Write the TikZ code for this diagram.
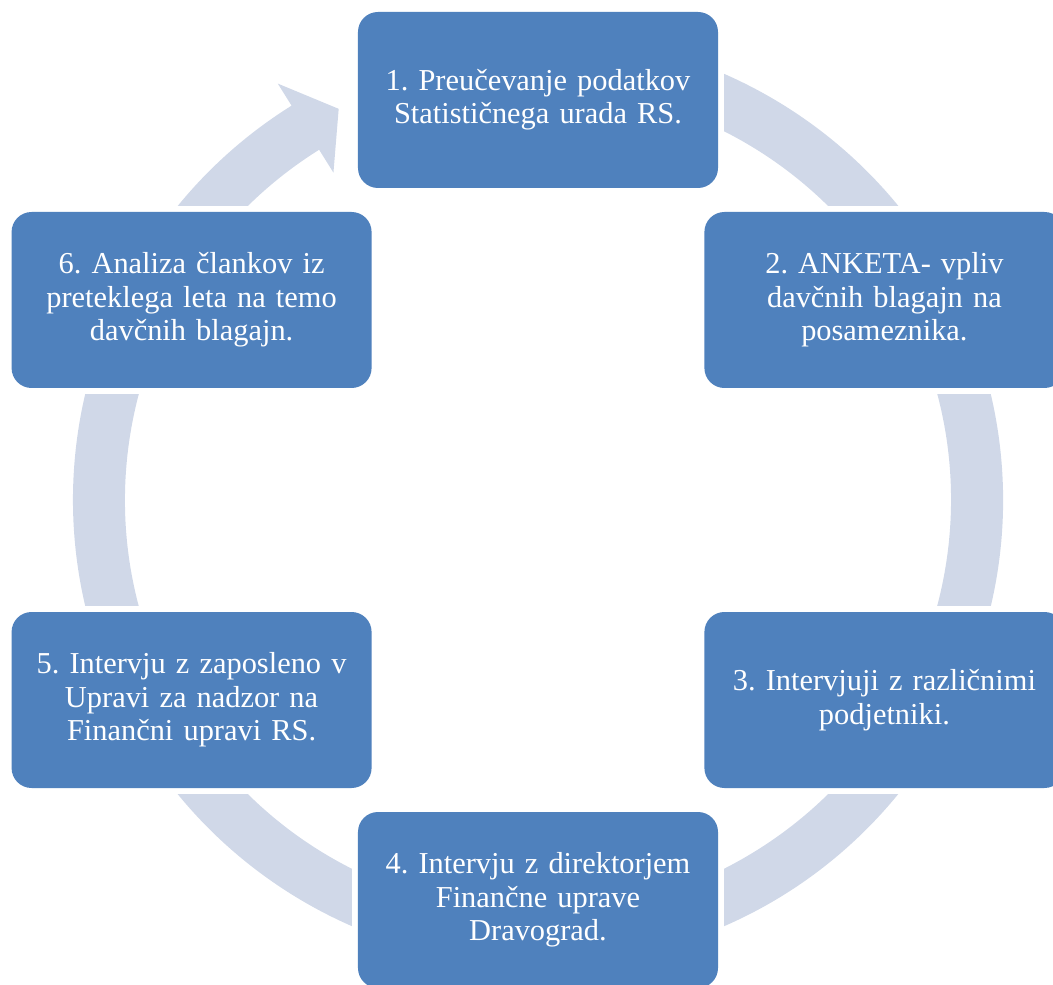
\documentclass[tikz,border=0pt]{standalone}
\usepackage{fontspec}
\setmainfont{Liberation Serif}
\frenchspacing
\definecolor{boxblue}{HTML}{4F81BD}
\definecolor{ringcol}{HTML}{D0D8E8}
\tikzset{
  stepbox/.style={fill=boxblue, rounded corners=15pt, minimum width=270pt, minimum height=132pt,
    inner sep=0pt, text width=264pt, align=center, text=white,
    font=\fontsize{22.8}{25}\selectfont\frenchspacing},
  gapbox/.style={fill=white, minimum width=279pt, minimum height=141pt, inner sep=0pt}
}
\begin{document}
\begin{tikzpicture}[x=0.75pt, y=0.75pt]
\useasboundingbox (-538,-485) rectangle (515,500);
\clip (-538,-485) rectangle (515,500);
% ring with arrowhead
\fill[ringcol] (105:465) arc[start angle=105, end angle=-238, radius=465]
  -- (-238:491) -- (-243:439) -- (-238:386) -- (-238:413)
  arc[start angle=-238, end angle=105, radius=413] -- cycle;
% gaps
\foreach \a in {90,30,-30,-90,-150,150}
  \node[gapbox] at (\a:400) {};
% boxes
\node[stepbox] (s1) at (90:400) {1. Preučevanje podatkov\\Statističnega urada RS.};
\node[stepbox] (s2) at (30:400) {2. ANKETA- vpliv\\davčnih blagajn na\\posameznika.};
\node[stepbox] (s3) at (-30:400) {3. Intervjuji z različnimi\\podjetniki.};
\node[stepbox] (s4) at (-90:400) {4. Intervju z direktorjem\\Finančne uprave\\Dravograd.};
\node[stepbox] (s5) at (-150:400) {5. Intervju z zaposleno v\\Upravi za nadzor na\\Finančni upravi RS.};
\node[stepbox] (s6) at (150:400) {6. Analiza člankov iz\\preteklega leta na temo\\davčnih blagajn.};
\end{tikzpicture}
\end{document}
